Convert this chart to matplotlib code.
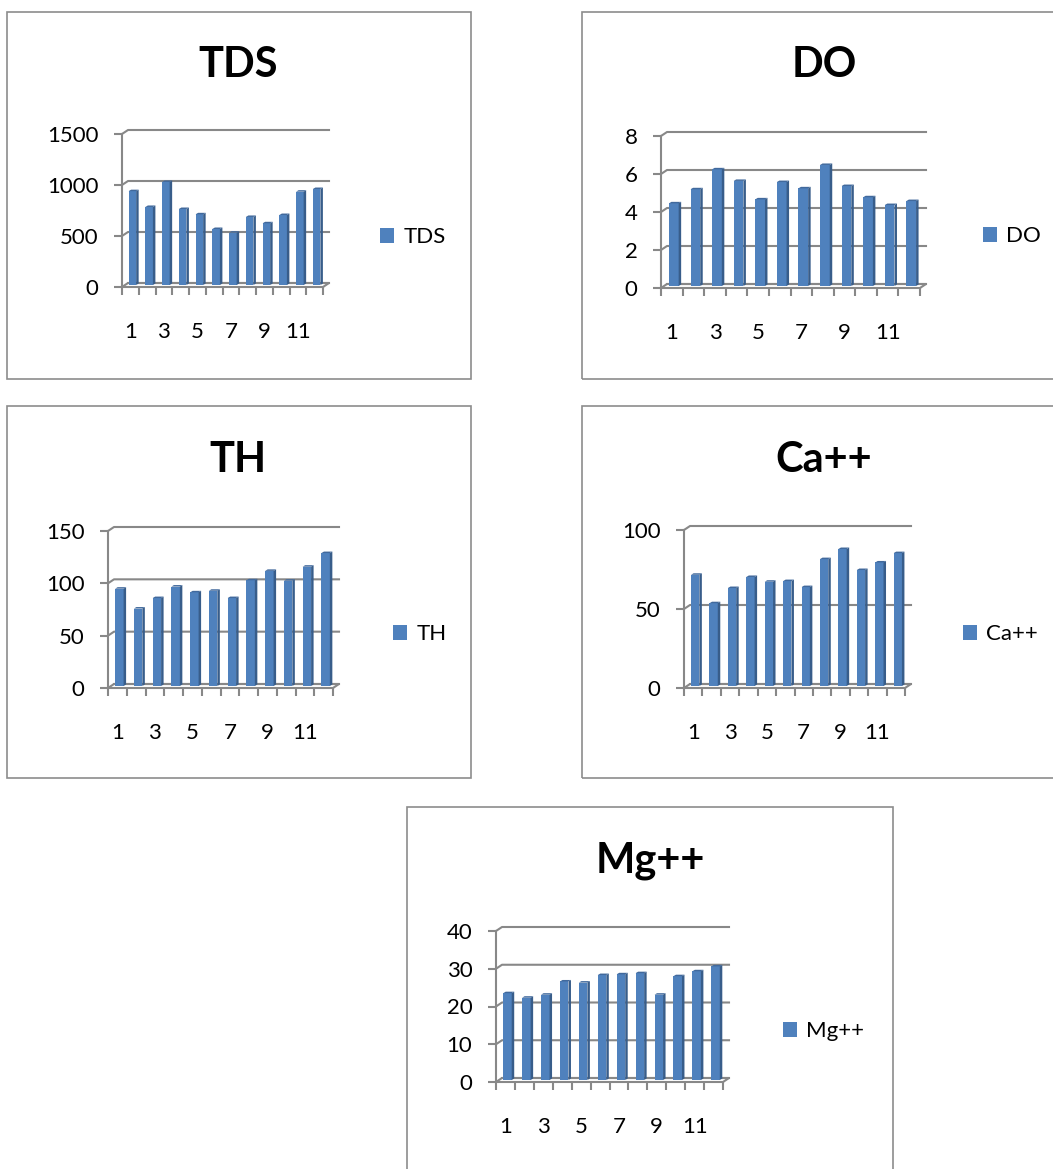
import matplotlib.pyplot as plt
from matplotlib.patches import Rectangle
import numpy as np

plt.rcParams['font.family'] = ['Lato', 'DejaVu Sans']

W, H = 1053, 1169

# data (12 sampling sites)
sites = np.arange(1, 13)
x_labels = ['1', '3', '5', '7', '9', '11']
tds = [920, 765, 1010, 745, 693, 549, 513, 667, 605, 686, 915, 941]
do = [4.35, 5.09, 6.14, 5.53, 4.56, 5.47, 5.14, 6.37, 5.26, 4.67, 4.26, 4.47]
th = [93, 74, 84, 95, 89.5, 91, 84, 101, 110, 100.6, 114, 127]
ca = [70.4, 52.4, 62, 69, 66, 66.4, 62.6, 80.3, 86.7, 73.4, 78.2, 84.1]
mg = [23, 21.8, 22.6, 26.1, 25.8, 27.8, 28, 28.3, 22.6, 27.5, 28.8, 30.1]

tds_ticks = [0, 500, 1000, 1500]
do_ticks = [0, 2, 4, 6, 8]
th_ticks = [0, 50, 100, 150]
ca_ticks = [0, 50, 100]
mg_ticks = [0, 10, 20, 30, 40]

bar_c = '#4F81BD'
side_c = '#385D8A'
top_c = '#41699C'
grid_c = '#888888'
depth = (6, 4)      # back wall offset in px
shift = (2, 2)      # bars sit half way back
side = (2.5, 1.5)   # bar depth in px
bw = 0.45
fs = 16

fig = plt.figure(figsize=(W / 100, H / 100), dpi=100)


def px_rect(l, t, r, b):
    return [l / W, 1 - b / H, (r - l) / W, (b - t) / H]


def panel(name, values, yticks, area, title_xy, legend_xy, box):
    l, t, r, b = area
    ax = fig.add_axes(px_rect(l, t, r, b))
    ymax = yticks[-1]
    ax.set_xlim(0.5, 12.5)
    ax.set_ylim(0, ymax)
    ax.patch.set_visible(False)
    ux = 12 / (r - l)
    uy = ymax / (b - t)
    dx, dy = depth[0] * ux, depth[1] * uy

    # side wall diagonals + back wall gridlines
    for v in yticks:
        ax.plot([0.5, 0.5 + dx, 12.5 + dx], [v, v + dy, v + dy],
                color=grid_c, lw=1.5, clip_on=False, zorder=1)
    # floor back edge and right edge
    ax.plot([0.5 + dx, 12.5 + dx, 12.5], [dy, dy, 0],
            color=grid_c, lw=1.5, clip_on=False, zorder=1)

    bx = sites + shift[0] * ux
    by = shift[1] * uy
    bars = ax.bar(bx, values, width=bw, bottom=by, color=bar_c,
                  zorder=3, clip_on=False)
    sx, sy = side[0] * ux, side[1] * uy
    for x, v in zip(bx, values):
        xr = x + bw / 2
        ax.fill([xr, xr, xr + sx, xr + sx], [by, by + v, by + v + sy, by + sy],
                color=side_c, lw=0, zorder=3, clip_on=False)
        ax.fill([xr - bw, xr, xr + sx, xr - bw + sx],
                [by + v, by + v, by + v + sy, by + v + sy],
                color=top_c, lw=0, zorder=3, clip_on=False)

    for s in ['top', 'right']:
        ax.spines[s].set_visible(False)
    for s in ['left', 'bottom']:
        ax.spines[s].set_color(grid_c)
        ax.spines[s].set_linewidth(1.5)
        ax.spines[s].set_zorder(4)

    ax.set_yticks(yticks)
    ax.tick_params(axis='y', length=6, width=1.5, color=grid_c, pad=11,
                   labelsize=fs)
    ax.set_xticks(sites[::2], x_labels)
    ax.set_xticks(np.arange(0.5, 13, 1), minor=True)
    ax.tick_params(axis='x', which='major', length=0, pad=25, labelsize=fs)
    ax.tick_params(axis='x', which='minor', length=6, width=1.5, color=grid_c)

    fig.text(title_xy[0] / W, 1 - title_xy[1] / H, name, ha='center',
             va='baseline', fontsize=30, fontweight='bold')

    ax.legend([bars], [name], loc='center left',
              bbox_to_anchor=(legend_xy[0] / W, 1 - legend_xy[1] / H),
              bbox_transform=fig.transFigure, frameon=False, fontsize=fs,
              handlelength=0.65, handleheight=0.65, handletextpad=0.4,
              borderpad=0, borderaxespad=0)

    bl, bt, br, bb = box
    fig.add_artist(Rectangle((bl / W, 1 - bb / H), (br - bl) / W, (bb - bt) / H,
                             transform=fig.transFigure, fill=False,
                             edgecolor='#8c8c8c', lw=1.2))


panel('TDS', tds, tds_ticks, (122, 134, 323, 287), (238, 77), (380, 237), (7, 12, 471, 379))
panel('DO', do, do_ticks, (661, 136, 920, 288), (824, 77), (983, 236), (582, 12, 1068, 379))
panel('TH', th, th_ticks, (108, 531, 333, 688), (238, 472), (393, 634), (7, 406, 471, 778))
panel('Ca++', ca, ca_ticks, (684, 530, 905, 688), (824, 472), (963, 634), (582, 406, 1068, 778))
panel('Mg++', mg, mg_ticks, (496, 931, 723, 1082), (650, 872), (783, 1031), (407, 807, 893, 1180))

plt.savefig('out.png', dpi=100)
